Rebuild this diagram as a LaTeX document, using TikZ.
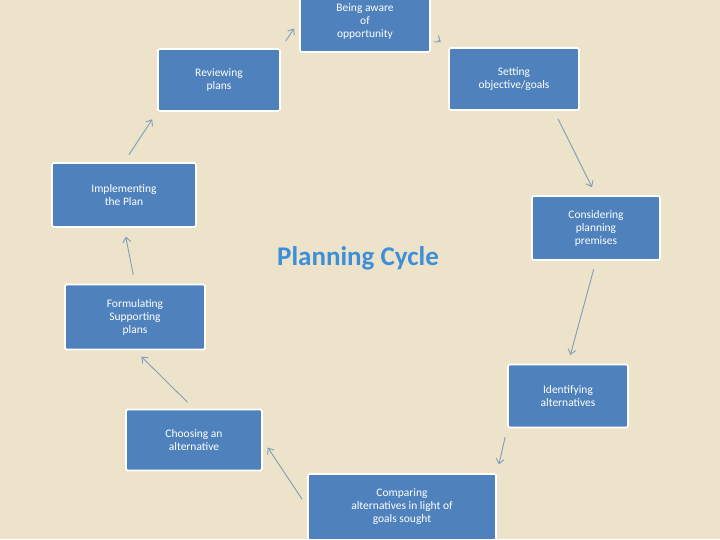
\documentclass[tikz,border=0pt]{standalone}
\usepackage{fontspec}
\setmainfont{Carlito}
\usetikzlibrary{arrows.meta}
\definecolor{bg}{HTML}{EDE3CB}
\definecolor{boxblue}{HTML}{4F81BD}
\definecolor{arrowblue}{HTML}{7F9DB9}
\definecolor{titleblue}{HTML}{3D8FD8}

\begin{document}
\begin{tikzpicture}[x=1pt,y=-1pt,>={Straight Barb[length=5pt,width=8pt]},
stage/.style={rectangle,rounded corners=1.5pt,draw=white,line width=1.6pt,fill=boxblue,
  text=white,align=center,font=\fontsize{11.5}{13}\selectfont,inner sep=2pt},
flow/.style={->,draw=arrowblue,line width=0.9pt,shorten >=9pt,shorten <=9pt}]

\fill[bg] (0,0) rectangle (720,539);
\clip (0,0) rectangle (720,539);

\node[stage,minimum width=130,minimum height=62](aware) at (365,21){Being aware\\of\\opportunity};
\node[stage,minimum width=130,minimum height=62](setting) at (514,79){Setting\\objective/goals};
\node[stage,minimum width=128,minimum height=64](premises) at (596,228){Considering\\planning\\premises};
\node[stage,minimum width=120,minimum height=63](identify) at (568,396){Identifying\\alternatives};
\node[stage,minimum width=188,minimum height=66](compare) at (402,507){Comparing\\alternatives in light of\\goals sought};
\node[stage,minimum width=136,minimum height=61](choose) at (194,440){Choosing an\\alternative};
\node[stage,minimum width=140,minimum height=65](formulate) at (135,317){Formulating\\Supporting\\plans};
\node[stage,minimum width=144,minimum height=64](implement) at (124,195){Implementing\\the Plan};
\node[stage,minimum width=122,minimum height=62](review) at (219,80){Reviewing\\plans};

\node[text=titleblue,font=\bfseries\fontsize{27}{30}\selectfont](title) at (358,258){Planning Cycle};

\draw[flow] (aware.east) ++(0,14) coordinate(a1) (a1) -- (setting.north west);
\draw[flow] (setting.south) ++(40,0) coordinate(s1) (s1) -- (premises.north);
\draw[flow] (premises.south) -- (identify.north);
\draw[flow] (identify.south west) -- (compare.north east);
\draw[flow] (compare.west) -- (choose.east);
\draw[flow] (choose.north) -- (formulate.south);
\draw[flow] (formulate.north) -- (implement.south);
\draw[flow] (implement.north) -- (review.south west);
\draw[flow] (review.north east) -- (aware.west);
\end{tikzpicture}
\end{document}
